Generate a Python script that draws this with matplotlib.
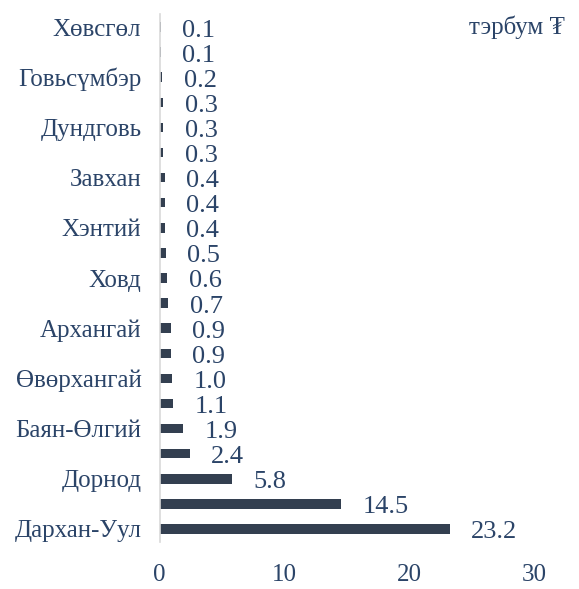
import matplotlib
matplotlib.use("Agg")
import matplotlib.pyplot as plt

categories = ["Хөвсгөл", "Увс", "Говьсүмбэр", "Сүхбаатар", "Дундговь", "Баянхонгор",
              "Завхан", "Булган", "Хэнтий", "Говь-Алтай", "Ховд", "Төв", "Архангай",
              "Сэлэнгэ", "Өвөрхангай", "Орхон", "Баян-Өлгий", "Дорноговь", "Дорнод",
              "Өмнөговь", "Дархан-Уул"]
values = [0.1, 0.1, 0.2, 0.3, 0.3, 0.3, 0.4, 0.4, 0.4, 0.5, 0.6, 0.7, 0.9, 0.9,
          1.0, 1.1, 1.9, 2.4, 5.8, 14.5, 23.2]
xticks = [0, 10, 20, 30]
unit_label = "тэрбум ₮"

plt.rcParams['font.family'] = ['Liberation Serif', 'DejaVu Serif']
txt = '#2b4468'
bar_c = '#333f50'
fs = 18

fig = plt.figure(figsize=(5.79, 5.89), dpi=100)
ax = fig.add_axes([159.5/579, 1-541.5/589, (534.5-159.5)/579, (541.5-14.5)/589])

y = list(range(len(categories)))
ax.barh(y, values, height=0.38, color=bar_c)
for yi, v in zip(y, values):
    ax.annotate(f"{v:.1f}", xy=(v, yi), xytext=(15.5, -2.5), textcoords='offset points',
                ha='left', va='center', fontsize=19, color=txt)

ax.set_ylim(len(categories)-0.5, -0.5)
ax.set_xlim(0, 30)
ax.set_yticks(y)
ax.set_yticklabels([c if i % 2 == 0 else "" for i, c in enumerate(categories)],
                   fontsize=fs, color=txt)
ax.set_xticks(xticks)
ax.set_xticklabels([str(t) for t in xticks], fontsize=fs, color=txt)
ax.tick_params(axis='y', length=0, pad=13)
ax.tick_params(axis='x', length=0, pad=16)
for s in ['top', 'right', 'bottom']:
    ax.spines[s].set_visible(False)
ax.spines['left'].set_color('#d9d9d9')
ax.spines['left'].set_linewidth(1.2)

fig.text(565/579, 1-27/589, unit_label, ha='right', va='center', fontsize=fs, color=txt)

fig.savefig("out.png", dpi=100)
